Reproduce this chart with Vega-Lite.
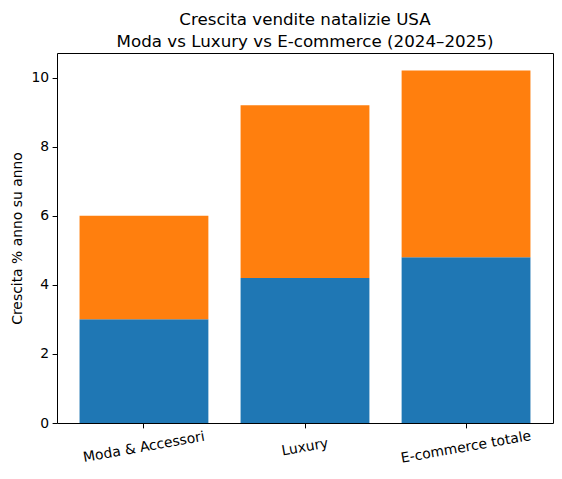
{
  "$schema": "https://vega.github.io/schema/vega-lite/v6.json",
  "width": 496,
  "height": 370,
  "autosize": {"type": "none"},
  "padding": {"left": 57, "top": 53, "right": 9, "bottom": 56},
  "background": "white",
  "config": {
    "font": "DejaVu Sans",
    "view": {"stroke": "black", "strokeWidth": 1},
    "axis": {
      "labelFont": "DejaVu Sans",
      "titleFont": "DejaVu Sans",
      "labelFontSize": 13.9,
      "titleFontSize": 13.9,
      "labelColor": "black",
      "titleColor": "black",
      "titleFontWeight": "normal",
      "domainColor": "black",
      "tickColor": "black",
      "tickSize": 4.9,
      "labelPadding": 3.5,
      "grid": false
    }
  },
  "title": {
    "text": ["Crescita vendite natalizie USA", "Moda vs Luxury vs E-commerce (2024–2025)"],
    "font": "DejaVu Sans",
    "fontSize": 16.7,
    "fontWeight": "normal",
    "color": "black",
    "lineHeight": 21.5,
    "anchor": "middle",
    "baseline": "bottom",
    "offset": 4,
    "dy": 18.5
  },
  "data": {
    "values": [
      {"categoria": "Moda & Accessori", "serie": "2024", "ordine": 1, "crescita": 3.0},
      {"categoria": "Moda & Accessori", "serie": "2025", "ordine": 2, "crescita": 3.0},
      {"categoria": "Luxury", "serie": "2024", "ordine": 1, "crescita": 4.2},
      {"categoria": "Luxury", "serie": "2025", "ordine": 2, "crescita": 5.0},
      {"categoria": "E-commerce totale", "serie": "2024", "ordine": 1, "crescita": 4.8},
      {"categoria": "E-commerce totale", "serie": "2025", "ordine": 2, "crescita": 5.4}
    ]
  },
  "mark": {"type": "bar"},
  "encoding": {
    "x": {
      "field": "categoria",
      "type": "nominal",
      "sort": ["Moda & Accessori", "Luxury", "E-commerce totale"],
      "scale": {"paddingInner": 0.2, "paddingOuter": 0.14},
      "axis": {
        "title": null,
        "labelAngle": -10,
        "labelAlign": "center",
        "labelBaseline": "middle",
        "labelPadding": 19,
        "ticks": true,
        "domain": false
      }
    },
    "y": {
      "field": "crescita",
      "type": "quantitative",
      "aggregate": "sum",
      "stack": "zero",
      "scale": {"domain": [0, 10.71], "nice": false, "zero": true},
      "axis": {
        "title": "Crescita % anno su anno",
        "values": [0, 2, 4, 6, 8, 10],
        "format": "d",
        "titlePadding": 6,
        "domain": false
      }
    },
    "color": {
      "field": "serie",
      "type": "nominal",
      "scale": {"domain": ["2024", "2025"], "range": ["#1f77b4", "#ff7f0e"]},
      "legend": null
    },
    "order": {"field": "ordine", "type": "quantitative"}
  }
}
